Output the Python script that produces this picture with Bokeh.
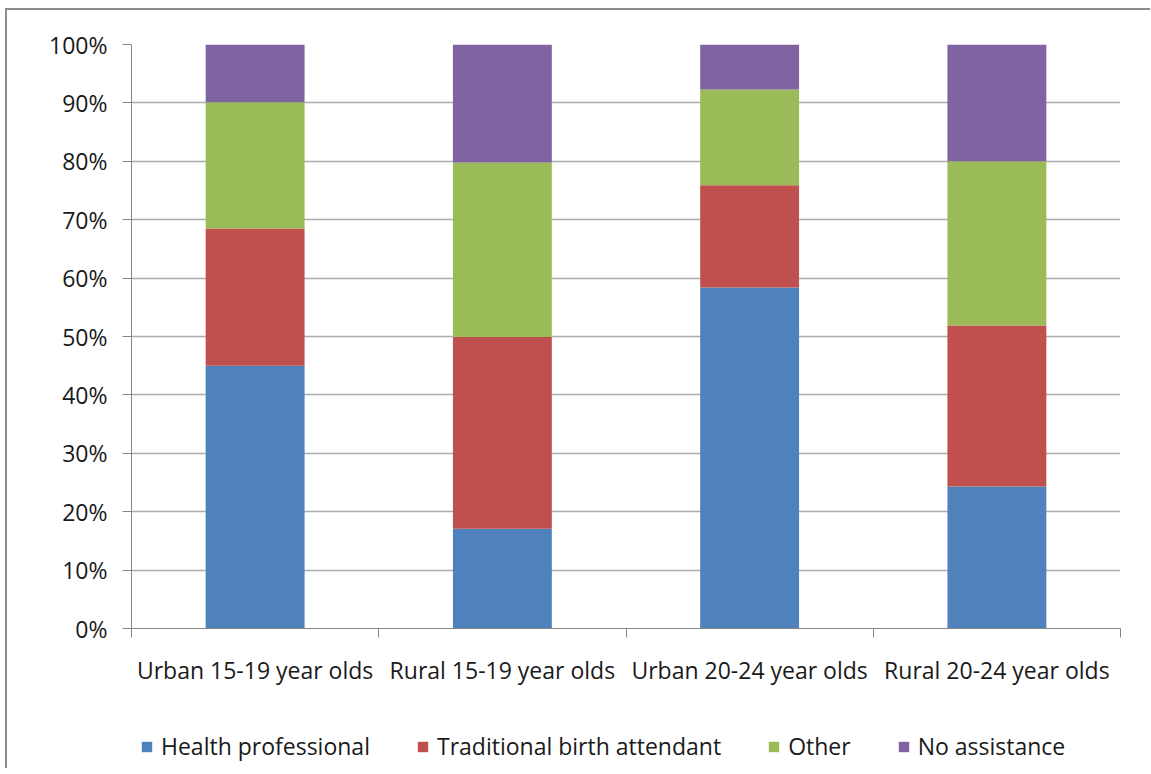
from bokeh.plotting import figure
from bokeh.layouts import column
from bokeh.models import Range1d, FixedTicker, LinearAxis, Legend, LegendItem
from bokeh.embed import file_html
from bokeh.resources import INLINE

categories = ["Urban 15-19 year olds", "Rural 15-19 year olds",
              "Urban 20-24 year olds", "Rural 20-24 year olds"]
series_names = ["Health professional", "Traditional birth attendant", "Other", "No assistance"]
health = [45.0, 17.1, 58.4, 24.3]
tba = [23.5, 32.8, 17.5, 27.6]
other = [21.6, 29.9, 16.4, 28.1]
no_assist = [9.9, 20.2, 7.7, 20.0]
y_ticks = [0, 10, 20, 30, 40, 50, 60, 70, 80, 90, 100]
colors = ["#4F81BD", "#C0504D", "#9BBB59", "#8064A2"]

FONT = "Open Sans"
FS = "23px"
TXT = "#1a1a1a"
n = len(categories)
xpos = [i + 0.5 for i in range(n)]
data = dict(x=xpos, health=health, tba=tba, other=other, no_assist=no_assist)
stack_keys = ["health", "tba", "other", "no_assist"]

p = figure(width=1143, height=688, output_backend="svg", toolbar_location=None,
           x_range=Range1d(0, n), y_range=Range1d(0, 100),
           min_border_left=124, min_border_right=30, min_border_top=34, min_border_bottom=70,
           x_axis_type=None)
p.outline_line_color = None
p.background_fill_color = "white"
p.border_fill_color = "white"

renderers = p.vbar_stack(stack_keys, x="x", width=0.4,
                         source=data, color=colors, line_color=None)

# y axis
ya = p.yaxis[0]
ya.ticker = FixedTicker(ticks=y_ticks)
ya.major_label_overrides = {t: f"{t}%" for t in y_ticks}
ya.axis_line_color = "#868686"
ya.major_tick_line_color = "#868686"
ya.major_tick_in = 0
ya.major_tick_out = 9
ya.minor_tick_line_color = None
ya.major_label_standoff = 15
ya.major_label_text_font = FONT
ya.major_label_text_font_size = FS
ya.major_label_text_color = TXT

p.ygrid.ticker = FixedTicker(ticks=y_ticks)
p.ygrid.grid_line_color = "#ADADAD"
p.ygrid.grid_line_width = 1.3
p.xgrid.grid_line_color = None

# x axis: boundary ticks
xa_ticks = LinearAxis(ticker=FixedTicker(ticks=list(range(n + 1))),
                      axis_line_color="#868686", major_tick_line_color="#868686",
                      major_tick_in=0, major_tick_out=9, minor_tick_line_color=None,
                      major_label_text_font_size="0px", major_label_standoff=0)
xa_ticks.major_label_overrides = {i: "" for i in range(n + 1)}
p.add_layout(xa_ticks, "below")

# x axis: category labels
xa_labels = LinearAxis(ticker=FixedTicker(ticks=xpos),
                       axis_line_color=None, major_tick_line_color=None,
                       minor_tick_line_color=None, major_label_standoff=10,
                       major_label_text_font=FONT, major_label_text_font_size=FS,
                       major_label_text_color=TXT)
xa_labels.major_label_overrides = {x: c for x, c in zip(xpos, categories)}
p.add_layout(xa_labels, "below")

# legend strip (its glyphs lie outside the visible range; only the legend shows)
p2 = figure(width=1143, height=70, output_backend="svg", toolbar_location=None,
            x_range=Range1d(0, n), y_range=Range1d(1000, 1001),
            min_border_left=124, min_border_right=30, min_border_top=0, min_border_bottom=0,
            x_axis_type=None, y_axis_type=None)
p2.outline_line_color = None
p2.xgrid.grid_line_color = None
p2.ygrid.grid_line_color = None
r2 = p2.vbar_stack(stack_keys, x="x", width=0.4, source=data, color=colors, line_color=None)

legend = Legend(items=[LegendItem(label=nm, renderers=[r]) for nm, r in zip(series_names, r2)],
                orientation="horizontal", location=(9, 6),
                border_line_color=None, background_fill_alpha=0,
                glyph_width=13, glyph_height=13, label_standoff=8, spacing=46,
                label_text_font=FONT, label_text_font_size=FS, label_text_color=TXT,
                margin=0, padding=0)
p2.add_layout(legend, "center")

layout = column(p, p2, spacing=0)
layout.styles = {"border-top": "2px solid #8c8c8c", "border-left": "2px solid #8c8c8c",
                 "margin-left": "5px", "margin-top": "8px"}

open("out.html", "w").write(file_html(layout, INLINE))
